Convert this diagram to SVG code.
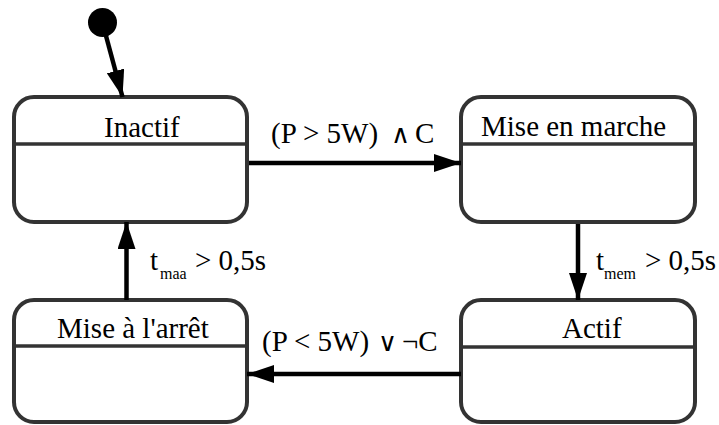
<svg xmlns="http://www.w3.org/2000/svg" width="719" height="425" viewBox="0 0 719 425">
<style>
.box{fill:#fff;stroke:#333;stroke-width:4}
.div{stroke:#333;stroke-width:3.5}
.t{font-family:'Liberation Serif','Times New Roman',serif;font-size:29px;fill:#000}
.sub{font-size:16px}
.op{font-family:'DejaVu Sans',sans-serif;font-size:26px;font-weight:200}
.c{stroke:#000;stroke-width:4.5;fill:none;marker-end:url(#ah)}
</style>
<defs>
<marker id="ah" markerUnits="userSpaceOnUse" markerWidth="28" markerHeight="18" refX="27" refY="9" orient="auto">
<path d="M0,0 L27,9 L0,18 z" fill="#000"/>
</marker>
</defs>
<g id="initial"><circle cx="102.5" cy="22.5" r="14.5" fill="#000"/></g>
<g id="inactif">
<rect class="box" x="14" y="97" width="233" height="125" rx="20"/>
<line class="div" x1="14" y1="144" x2="247" y2="144"/>
<text class="t" x="104" y="136.5">Inactif</text>
</g>
<g id="mise-en-marche">
<rect class="box" x="461" y="97" width="234" height="125" rx="20"/>
<line class="div" x1="461" y1="144" x2="695" y2="144"/>
<text class="t" x="481" y="136">Mise en marche</text>
</g>
<g id="actif">
<rect class="box" x="461" y="300" width="234" height="122" rx="20"/>
<line class="div" x1="461" y1="347" x2="695" y2="347"/>
<text class="t" x="562" y="338">Actif</text>
</g>
<g id="mise-a-l-arret">
<rect class="box" x="14" y="300" width="233" height="122" rx="20"/>
<line class="div" x1="14" y1="346" x2="247" y2="346"/>
<text class="t" x="57" y="337.5">Mise à l'arrêt</text>
</g>
<g id="connectors">
<line class="c" x1="105.5" y1="34" x2="122.5" y2="97"/>
<line class="c" x1="249" y1="163" x2="461" y2="163"/>
<line class="c" x1="578" y1="224" x2="578" y2="300"/>
<line class="c" x1="461" y1="374" x2="247" y2="374"/>
<line class="c" x1="126.5" y1="300" x2="126.5" y2="222"/>
<text class="t" x="271" y="143">(P &gt; 5W)<tspan class="op" x="391" y="143">∧</tspan><tspan x="415" y="143">C</tspan></text>
<text class="t" x="262" y="351">(P &lt; 5W)<tspan class="op" x="378" y="351">∨</tspan><tspan x="402" y="351">¬C</tspan></text>
<text class="t" x="150" y="270">t<tspan class="sub" x="160" y="279">maa</tspan><tspan x="195" y="270">&gt; 0,5s</tspan></text>
<text class="t" x="596" y="270">t<tspan class="sub" x="604" y="279">mem</tspan><tspan x="645" y="270">&gt; 0,5s</tspan></text>
</g>
</svg>
